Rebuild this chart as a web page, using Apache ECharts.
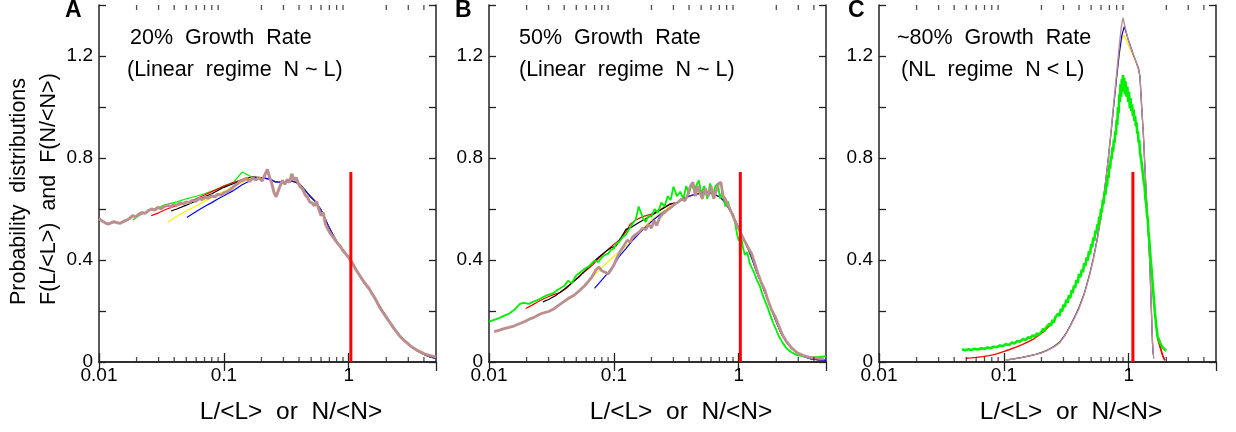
<!DOCTYPE html>
<html><head><meta charset="utf-8">
<script src="https://cdn.jsdelivr.net/npm/echarts@6.0.0/dist/echarts.min.js"></script>
<style>html,body{margin:0;padding:0;background:#fff}#c{width:1236px;height:432px}</style>
</head><body><div id="c"></div><script>
// ---------------- DATA ----------------
const panelLetters = ['A', 'B', 'C'];
const titleLine1 = ['20%  Growth  Rate', '50%  Growth  Rate', '~80%  Growth  Rate'];
const titleLine2 = ['(Linear  regime  N ~ L)', '(Linear  regime  N ~ L)', '(NL  regime  N < L)'];
const xAxisName = 'L/<L>  or  N/<N>';
const yAxisName1 = 'Probability  distributions';
const yAxisName2 = 'F(L/<L>)  and  F(N/<N>)';
const xMajorLabels = [0.01, 0.1, 1];
const xMinorTicks = [0.02,0.03,0.04,0.05,0.06,0.07,0.08,0.09,0.2,0.3,0.4,0.5,0.6,0.7,0.8,0.9,2,3,4];
const yLabelValues = [0, 0.4, 0.8, 1.2];
const X_MIN = 0.01, X_MAX = 5, Y_MIN = 0, Y_MAX = 1.4, Y_STEP = 0.2;
const redLineX = [1.04, 1.03, 1.08];
const redLineTop = [0.745, 0.745, 0.745];

// Panel A
const brownA = [[0.0100,0.562],[0.0106,0.553],[0.0112,0.546],[0.0118,0.541],[0.0125,0.546],[0.0132,0.550],[0.0140,0.546],[0.0148,0.544],[0.0157,0.551],[0.0166,0.556],[0.0176,0.563],[0.0186,0.574],[0.0197,0.569],[0.0209,0.580],[0.0221,0.586],[0.0234,0.583],[0.0248,0.594],[0.0263,0.600],[0.0279,0.596],[0.0296,0.606],[0.0314,0.601],[0.0333,0.610],[0.0353,0.614],[0.0374,0.609],[0.0396,0.618],[0.0420,0.615],[0.0445,0.624],[0.0472,0.620],[0.0500,0.628],[0.0530,0.625],[0.0562,0.634],[0.0596,0.630],[0.0631,0.641],[0.0669,0.637],[0.0709,0.646],[0.0752,0.643],[0.0797,0.652],[0.0845,0.648],[0.0896,0.658],[0.0950,0.655],[0.1007,0.664],[0.1067,0.668],[0.1131,0.677],[0.1199,0.688],[0.1271,0.697],[0.1347,0.708],[0.1428,0.713],[0.1514,0.720],[0.1605,0.708],[0.1701,0.722],[0.1803,0.714],[0.1911,0.724],[0.2026,0.710],[0.2147,0.738],[0.2230,0.755],[0.2320,0.726],[0.2420,0.700],[0.2520,0.665],[0.2620,0.648],[0.2720,0.670],[0.2830,0.692],[0.2950,0.712],[0.3080,0.697],[0.3220,0.716],[0.3360,0.704],[0.3500,0.738],[0.3650,0.714],[0.3800,0.722],[0.3950,0.700],[0.4120,0.686],[0.4300,0.676],[0.4480,0.655],[0.4670,0.646],[0.4870,0.628],[0.5080,0.624],[0.5300,0.612],[0.5520,0.630],[0.5750,0.600],[0.6000,0.574],[0.6250,0.586],[0.6520,0.540],[0.6800,0.522],[0.7100,0.505],[0.7400,0.494],[0.7750,0.480],[0.8100,0.467],[0.8500,0.455],[0.8900,0.440],[0.9300,0.428],[0.9700,0.418],[1.0100,0.406],[1.0500,0.394],[1.1000,0.377],[1.1500,0.360],[1.2000,0.346],[1.2600,0.330],[1.3200,0.315],[1.3800,0.302],[1.4500,0.290],[1.5200,0.272],[1.6000,0.255],[1.6800,0.236],[1.7700,0.214],[1.8600,0.198],[1.9600,0.182],[2.0600,0.166],[2.1700,0.150],[2.2800,0.134],[2.4000,0.120],[2.5200,0.106],[2.6500,0.094],[2.8000,0.083],[2.9500,0.074],[3.1000,0.064],[3.3000,0.055],[3.5000,0.047],[3.7500,0.040],[4.0000,0.033],[4.3000,0.028],[4.6000,0.024],[5.0000,0.020]];
const tailA = [[0.17,0.725],[0.20,0.722],[0.23,0.718],[0.26,0.706],[0.30,0.704],[0.35,0.710],[0.40,0.700],[0.45,0.672],[0.50,0.646],[0.55,0.625],[0.60,0.596],[0.65,0.560],[0.70,0.525],[0.80,0.472],[0.90,0.440],[1.00,0.410],[1.10,0.378],[1.20,0.347],[1.35,0.305],[1.50,0.278],[1.70,0.232],[2.00,0.176],[2.30,0.134],[2.60,0.100],[3.00,0.070],[3.50,0.045],[4.00,0.030],[4.50,0.020],[5.00,0.014]];
const greenA = [[0.0187,0.557],[0.020,0.568],[0.022,0.580],[0.025,0.592],[0.028,0.600],[0.032,0.612],[0.036,0.620],[0.042,0.628],[0.050,0.640],[0.060,0.650],[0.070,0.660],[0.080,0.670],[0.090,0.678],[0.100,0.690],[0.120,0.705],[0.140,0.745],[0.150,0.738],[0.160,0.730]];
const redA = [[0.0262,0.574],[0.030,0.585],[0.035,0.600],[0.040,0.610],[0.050,0.625],[0.060,0.640],[0.070,0.655],[0.080,0.668],[0.100,0.690],[0.120,0.705],[0.150,0.720]];
const blackA = [[0.0377,0.592],[0.042,0.600],[0.050,0.615],[0.060,0.632],[0.070,0.648],[0.080,0.660],[0.100,0.685],[0.120,0.700],[0.150,0.718]];
const yellowA = [[0.0355,0.548],[0.040,0.565],[0.045,0.580],[0.050,0.592],[0.060,0.612],[0.070,0.630],[0.080,0.645],[0.100,0.668],[0.120,0.690],[0.150,0.710]];
const blueA = [[0.0505,0.567],[0.060,0.590],[0.070,0.610],[0.080,0.625],[0.090,0.640],[0.100,0.652],[0.117,0.670],[0.140,0.695],[0.167,0.714]];

// Panel B
const brownB = [[0.011,0.119],[0.012,0.124],[0.013,0.130],[0.0145,0.136],[0.016,0.142],[0.0175,0.150],[0.019,0.157],[0.021,0.168],[0.023,0.175],[0.025,0.185],[0.027,0.192],[0.030,0.198],[0.033,0.208],[0.036,0.222],[0.040,0.238],[0.044,0.252],[0.048,0.262],[0.053,0.280],[0.058,0.298],[0.063,0.318],[0.068,0.340],[0.072,0.362],[0.076,0.372],[0.080,0.358],[0.085,0.352],[0.090,0.345],[0.095,0.362],[0.100,0.380],[0.105,0.405],[0.112,0.432],[0.120,0.455],[0.128,0.478],[0.135,0.470],[0.142,0.492],[0.150,0.500],[0.160,0.510],[0.170,0.525],[0.180,0.518],[0.190,0.540],[0.200,0.525],[0.210,0.555],[0.220,0.535],[0.232,0.565],[0.245,0.580],[0.260,0.590],[0.275,0.600],[0.290,0.608],[0.310,0.620],[0.330,0.628],[0.350,0.640],[0.370,0.632],[0.390,0.655],[0.410,0.690],[0.430,0.705],[0.450,0.650],[0.470,0.690],[0.490,0.665],[0.510,0.640],[0.540,0.680],[0.570,0.650],[0.600,0.690],[0.630,0.640],[0.660,0.670],[0.690,0.700],[0.720,0.705],[0.750,0.650],[0.780,0.640],[0.810,0.620],[0.850,0.600],[0.890,0.578],[0.930,0.555],[0.970,0.535],[1.000,0.525],[1.050,0.500],[1.100,0.480],[1.150,0.462],[1.200,0.445],[1.270,0.425],[1.350,0.385],[1.430,0.345],[1.520,0.310],[1.620,0.282],[1.720,0.240],[1.830,0.205],[1.960,0.178],[2.100,0.140],[2.250,0.105],[2.400,0.082],[2.600,0.060],[2.800,0.045],[3.000,0.034],[3.300,0.025],[3.700,0.018],[4.200,0.015],[4.800,0.012]];
const greenB = [[0.010,0.158],[0.011,0.165],[0.012,0.172],[0.013,0.180],[0.0145,0.190],[0.016,0.205],[0.0177,0.228],[0.019,0.232],[0.021,0.228],[0.0224,0.236],[0.025,0.245],[0.028,0.258],[0.0326,0.270],[0.036,0.285],[0.040,0.298],[0.043,0.318],[0.046,0.310],[0.050,0.340],[0.054,0.352],[0.058,0.365],[0.062,0.372],[0.066,0.385],[0.070,0.398],[0.075,0.392],[0.080,0.410],[0.085,0.420],[0.090,0.425],[0.095,0.440],[0.100,0.445],[0.105,0.465],[0.110,0.470],[0.118,0.490],[0.125,0.500],[0.132,0.520],[0.140,0.540],[0.150,0.560],[0.158,0.610],[0.165,0.585],[0.172,0.560],[0.180,0.550],[0.190,0.575],[0.200,0.570],[0.212,0.600],[0.225,0.585],[0.240,0.625],[0.255,0.610],[0.270,0.650],[0.285,0.635],[0.300,0.688],[0.320,0.650],[0.340,0.668],[0.360,0.640],[0.380,0.690],[0.400,0.660],[0.420,0.700],[0.440,0.670],[0.460,0.695],[0.480,0.712],[0.500,0.660],[0.530,0.690],[0.560,0.640],[0.590,0.700],[0.620,0.650],[0.650,0.690],[0.680,0.700],[0.710,0.640],[0.740,0.670],[0.780,0.610],[0.820,0.630],[0.860,0.590],[0.900,0.580],[0.940,0.540],[0.970,0.500],[1.000,0.475],[1.040,0.500],[1.080,0.450],[1.120,0.420],[1.170,0.430],[1.220,0.390],[1.270,0.370],[1.330,0.350],[1.400,0.320],[1.470,0.300],[1.550,0.265],[1.620,0.240],[1.700,0.215],[1.800,0.180],[1.900,0.150],[2.000,0.125],[2.100,0.100],[2.250,0.075],[2.400,0.055],[2.600,0.040],[2.900,0.028],[3.300,0.022],[3.800,0.018],[4.400,0.020],[5.000,0.022]];
const tailB = [[0.32,0.625],[0.36,0.640],[0.40,0.650],[0.45,0.658],[0.50,0.662],[0.55,0.665],[0.60,0.662],[0.65,0.655],[0.70,0.648],[0.75,0.635],[0.80,0.615],[0.85,0.595],[0.90,0.575],[0.95,0.548],[1.00,0.525],[1.10,0.480],[1.20,0.440],[1.30,0.395],[1.40,0.350],[1.50,0.315],[1.60,0.280],[1.75,0.230],[1.90,0.185],[2.05,0.145],[2.20,0.110],[2.40,0.080],[2.60,0.058],[2.90,0.038],[3.30,0.022],[3.80,0.012],[4.40,0.008],[5.00,0.006]];
const redB = [[0.0197,0.210],[0.022,0.222],[0.025,0.238],[0.028,0.250],[0.032,0.262],[0.037,0.272],[0.042,0.290],[0.048,0.318],[0.055,0.345],[0.062,0.365],[0.068,0.382],[0.075,0.405],[0.085,0.430],[0.095,0.452],[0.110,0.478],[0.125,0.510],[0.135,0.540],[0.150,0.557],[0.170,0.570],[0.200,0.580],[0.240,0.600],[0.280,0.620]];
const blackB = [[0.027,0.236],[0.030,0.245],[0.034,0.260],[0.040,0.285],[0.046,0.310],[0.053,0.335],[0.060,0.362],[0.068,0.390],[0.076,0.412],[0.085,0.432],[0.095,0.448],[0.104,0.455],[0.115,0.490],[0.125,0.520],[0.140,0.530],[0.160,0.548],[0.180,0.562],[0.200,0.575],[0.240,0.598],[0.280,0.618]];
const yellowB = [[0.038,0.230],[0.043,0.245],[0.050,0.268],[0.058,0.295],[0.068,0.335],[0.080,0.370],[0.095,0.405],[0.110,0.432],[0.125,0.452],[0.145,0.490],[0.170,0.525],[0.200,0.557],[0.240,0.585],[0.280,0.610]];
const blueB = [[0.070,0.289],[0.078,0.315],[0.088,0.345],[0.100,0.380],[0.110,0.413],[0.125,0.445],[0.140,0.475],[0.160,0.505],[0.180,0.530],[0.210,0.560],[0.250,0.588],[0.295,0.609]];

// Panel C
const greenC = [[0.0463,0.050],[0.049,0.046],[0.052,0.050],[0.055,0.047],[0.058,0.052],[0.062,0.049],[0.066,0.054],[0.070,0.051],[0.074,0.057],[0.078,0.054],[0.083,0.060],[0.088,0.058],[0.093,0.065],[0.098,0.062],[0.104,0.070],[0.110,0.067],[0.116,0.076],[0.122,0.073],[0.128,0.082],[0.135,0.080],[0.142,0.090],[0.149,0.086],[0.156,0.097],[0.163,0.094],[0.170,0.104],[0.177,0.100],[0.184,0.112],[0.192,0.108],[0.200,0.118],[0.206,0.130],[0.212,0.122],[0.218,0.136],[0.225,0.130],[0.232,0.150],[0.238,0.142],[0.245,0.165],[0.252,0.155],[0.258,0.175],[0.265,0.168],[0.272,0.190],[0.279,0.180],[0.286,0.208],[0.293,0.198],[0.300,0.225],[0.308,0.215],[0.316,0.245],[0.324,0.232],[0.332,0.262],[0.340,0.250],[0.348,0.282],[0.356,0.270],[0.364,0.300],[0.372,0.290],[0.381,0.322],[0.390,0.310],[0.400,0.345],[0.410,0.332],[0.420,0.362],[0.430,0.352],[0.440,0.388],[0.450,0.376],[0.460,0.410],[0.470,0.398],[0.480,0.435],[0.490,0.422],[0.500,0.462],[0.510,0.450],[0.520,0.488],[0.530,0.475],[0.540,0.515],[0.550,0.502],[0.560,0.540],[0.570,0.528],[0.580,0.570],[0.590,0.556],[0.600,0.602],[0.610,0.588],[0.620,0.635],[0.630,0.620],[0.640,0.668],[0.650,0.655],[0.660,0.700],[0.670,0.688],[0.680,0.735],[0.690,0.722],[0.700,0.772],[0.710,0.758],[0.720,0.808],[0.730,0.795],[0.740,0.842],[0.750,0.825],[0.760,0.872],[0.770,0.858],[0.780,0.905],[0.790,0.890],[0.800,0.950],[0.810,0.930],[0.820,1.000],[0.830,0.975],[0.840,1.050],[0.850,1.020],[0.860,1.090],[0.870,1.040],[0.880,1.110],[0.890,1.060],[0.900,1.125],[0.910,1.070],[0.920,1.115],[0.930,1.050],[0.945,1.100],[0.960,1.040],[0.975,1.080],[0.990,1.020],[1.005,1.060],[1.020,0.995],[1.035,1.035],[1.050,0.985],[1.065,1.010],[1.080,0.965],[1.095,0.990],[1.110,0.945],[1.125,0.965],[1.140,0.925],[1.155,0.940],[1.170,0.895],[1.185,0.905],[1.200,0.860],[1.215,0.870],[1.230,0.825],[1.245,0.830],[1.260,0.790],[1.275,0.795],[1.290,0.750],[1.305,0.748],[1.320,0.705],[1.340,0.690],[1.360,0.640],[1.380,0.620],[1.400,0.580],[1.420,0.560],[1.440,0.510],[1.460,0.480],[1.480,0.440],[1.500,0.400],[1.520,0.370],[1.540,0.330],[1.560,0.300],[1.580,0.260],[1.600,0.230],[1.620,0.195],[1.640,0.170],[1.660,0.140],[1.680,0.125],[1.700,0.100],[1.740,0.090],[1.780,0.075],[1.820,0.070],[1.860,0.058],[1.900,0.056],[1.950,0.048],[2.000,0.045]];
const redCLow = [[0.0498,0.0145],[0.055,0.016],[0.060,0.018],[0.068,0.021],[0.076,0.025],[0.085,0.030],[0.098,0.040],[0.110,0.048],[0.125,0.058],[0.140,0.068],[0.158,0.080],[0.175,0.092],[0.195,0.108],[0.215,0.125],[0.235,0.145]];
const redCHigh = [[1.700,0.095],[1.760,0.070],[1.820,0.045],[1.880,0.022],[1.950,0.006]];
const brownC = [[0.103,0.008],[0.12,0.012],[0.14,0.018],[0.16,0.024],[0.18,0.030],[0.20,0.036],[0.22,0.044],[0.25,0.058],[0.28,0.075],[0.31,0.105],[0.34,0.140],[0.37,0.175],[0.40,0.210],[0.44,0.265],[0.48,0.330],[0.52,0.400],[0.56,0.480],[0.60,0.570],[0.64,0.670],[0.68,0.780],[0.72,0.900],[0.76,1.020],[0.80,1.130],[0.84,1.240],[0.87,1.310],[0.90,1.350],[0.93,1.320],[0.97,1.280],[1.01,1.250],[1.05,1.225],[1.10,1.200],[1.15,1.175],[1.20,1.145],[1.23,1.120],[1.27,1.000],[1.31,0.897],[1.35,0.760],[1.39,0.635],[1.44,0.500],[1.48,0.374],[1.52,0.200],[1.55,0.080],[1.57,0.034],[1.59,0.012]];
const blueC = [[0.105,0.008],[0.12,0.012],[0.14,0.018],[0.16,0.024],[0.18,0.030],[0.20,0.037],[0.22,0.045],[0.25,0.060],[0.28,0.078],[0.31,0.107],[0.34,0.142],[0.37,0.178],[0.40,0.214],[0.44,0.268],[0.48,0.334],[0.52,0.404],[0.56,0.484],[0.60,0.574],[0.64,0.672],[0.68,0.780],[0.72,0.895],[0.76,1.010],[0.80,1.115],[0.84,1.210],[0.88,1.280],[0.92,1.315],[0.95,1.295],[0.99,1.265],[1.03,1.240],[1.08,1.210],[1.14,1.180],[1.20,1.150],[1.23,1.120],[1.27,1.000],[1.31,0.890],[1.35,0.755],[1.39,0.630],[1.44,0.495],[1.48,0.370],[1.52,0.195],[1.55,0.075],[1.57,0.030]];
const yellowC = [[0.11,0.009],[0.13,0.014],[0.15,0.020],[0.17,0.027],[0.20,0.038],[0.23,0.050],[0.26,0.066],[0.29,0.088],[0.32,0.118],[0.35,0.155],[0.38,0.190],[0.42,0.240],[0.46,0.300],[0.50,0.368],[0.54,0.442],[0.58,0.525],[0.62,0.620],[0.66,0.725],[0.70,0.835],[0.74,0.950],[0.78,1.060],[0.82,1.160],[0.86,1.240],[0.90,1.285],[0.93,1.275],[0.97,1.255],[1.01,1.235],[1.06,1.212],[1.12,1.185],[1.18,1.160],[1.23,1.122],[1.27,1.000],[1.31,0.893],[1.35,0.758],[1.39,0.632],[1.44,0.497],[1.48,0.372],[1.52,0.198],[1.55,0.078],[1.57,0.032]];

// ---------------- STYLE / LAYOUT ----------------
const FONT = '"Liberation Sans", Arial, Helvetica, sans-serif';
const AX = '#222';
const COL = {green:'#00ee00', red:'#ff0000', black:'#000000', yellow:'#ffee00', blue:'#0000ff', brown:'#bc8f8f'};
const gridLeft = [99, 489, 879];
const GRID_W = 337, GRID_TOP = 5, GRID_H = 357;

const panelSeries = [
  [ ['green', greenA.concat(tailA), 1.2], ['red', redA.concat(tailA), 1.2], ['black', blackA.concat(tailA), 1.2],
    ['yellow', yellowA.concat(tailA), 1.2], ['blue', blueA.concat(tailA), 1.2], ['brown', brownA, 3] ],
  [ ['red', redB.concat(tailB), 1.2], ['black', blackB.concat(tailB), 1.2], ['yellow', yellowB.concat(tailB), 1.2],
    ['blue', blueB.concat(tailB), 1.2], ['green', greenB, 1.8], ['brown', brownB, 2.8] ],
  [ ['red', redCLow, 1.4], ['red', redCHigh, 1.8], ['yellow', yellowC, 1.2], ['blue', blueC, 1.2],
    ['brown', brownC, 1.4], ['green', greenC, 2.6] ]
];

const grids = [], xAxes = [], yAxes = [], series = [], graphics = [];
function xLab(v){ for (const m of xMajorLabels) if (Math.abs(v - m) < m*1e-6) return String(m); return ''; }
function yLab(v){ for (const m of yLabelValues) if (Math.abs(v - m) < 1e-6) return m === 0 ? '0' : m.toFixed(1); return ''; }

for (let i = 0; i < 3; i++) {
  grids.push({left: gridLeft[i], top: GRID_TOP, width: GRID_W, height: GRID_H, containLabel: false});
  const baseX = {type:'log', logBase:10, min:X_MIN, max:X_MAX, gridIndex:i,
    axisLine:{show:true, lineStyle:{color:AX, width:1.5}},
    axisTick:{show:true, inside:true, length:9, lineStyle:{color:AX, width:1.3}},
    splitLine:{show:false}, minorTick:{show:false}};
  xAxes.push(Object.assign({}, baseX, {position:'bottom',
    axisLabel:{show:true, formatter:xLab, fontSize:19, color:'#000', fontFamily:FONT, margin:4, showMaxLabel:false}}));
  xAxes.push(Object.assign({}, baseX, {position:'top', axisLabel:{show:false}}));
  const baseY = {type:'value', min:Y_MIN, max:Y_MAX, interval:Y_STEP, gridIndex:i,
    axisLine:{show:true, lineStyle:{color:AX, width:1.5}},
    axisTick:{show:true, inside:true, length:7, lineStyle:{color:AX, width:1.3}},
    splitLine:{show:false}};
  yAxes.push(Object.assign({}, baseY, {position:'left',
    axisLabel:{show:true, formatter:yLab, fontSize:19, color:'#000', fontFamily:FONT, margin:6}}));
  yAxes.push(Object.assign({}, baseY, {position:'right', axisLabel:{show:false}}));

  for (const [c, d, w] of panelSeries[i]) {
    series.push({type:'line', xAxisIndex:2*i, yAxisIndex:2*i, data:d, symbol:'none', showSymbol:false,
      lineStyle:{color:COL[c], width:w}, silent:true, animation:false});
  }
  // red vertical marker
  series.push({type:'line', xAxisIndex:2*i, yAxisIndex:2*i,
    data:[[redLineX[i], 0], [redLineX[i], redLineTop[i]]], symbol:'none',
    lineStyle:{color:'#ff0000', width:3}, silent:true, animation:false, z:5});
  // minor log ticks bottom and top
  series.push({type:'scatter', xAxisIndex:2*i, yAxisIndex:2*i, data:xMinorTicks.map(v=>[v, Y_MIN]),
    symbol:'rect', symbolSize:[1.3,5], symbolOffset:[0,-2.5], itemStyle:{color:AX}, silent:true, clip:false, animation:false, z:6});
  series.push({type:'scatter', xAxisIndex:2*i, yAxisIndex:2*i, data:xMinorTicks.map(v=>[v, Y_MAX]),
    symbol:'rect', symbolSize:[1.3,5], symbolOffset:[0,2.5], itemStyle:{color:AX}, silent:true, clip:false, animation:false, z:6});

  // texts
  const letterX = [65, 455, 848];
  graphics.push({type:'text', x:letterX[i], y:11, style:{text:panelLetters[i], font:'bold 23px '+FONT, fill:'#000',
    textAlign:'left', align:'left', textVerticalAlign:'middle', verticalAlign:'middle'}});
  const t1x = [130, 519, 897], t2x = [127, 519, 901];
  graphics.push({type:'text', x:t1x[i], y:38, style:{text:titleLine1[i], font:'21.5px '+FONT, fill:'#000',
    textAlign:'left', align:'left', textVerticalAlign:'middle', verticalAlign:'middle'}});
  graphics.push({type:'text', x:t2x[i], y:70.5, style:{text:titleLine2[i], font:'21.5px '+FONT, fill:'#000',
    textAlign:'left', align:'left', textVerticalAlign:'middle', verticalAlign:'middle'}});
  graphics.push({type:'text', x:gridLeft[i] + 192, y:412, style:{text:xAxisName, font:'24.5px '+FONT, fill:'#000',
    textAlign:'center', align:'center', textVerticalAlign:'middle', verticalAlign:'middle'}});
}
graphics.push({type:'text', x:19.5, y:305, rotation:Math.PI/2, style:{text:yAxisName1, font:'21.5px '+FONT, fill:'#000',
  textAlign:'left', align:'left', textVerticalAlign:'middle', verticalAlign:'middle'}});
graphics.push({type:'text', x:49.5, y:305, rotation:Math.PI/2, style:{text:yAxisName2, font:'21.5px '+FONT, fill:'#000',
  textAlign:'left', align:'left', textVerticalAlign:'middle', verticalAlign:'middle'}});

const chart = echarts.init(document.getElementById('c'), null, {renderer:'canvas'});
chart.setOption({
  animation:false, backgroundColor:'#fff',
  grid:grids, xAxis:xAxes, yAxis:yAxes, series:series, graphic:graphics
});
</script></body></html>
